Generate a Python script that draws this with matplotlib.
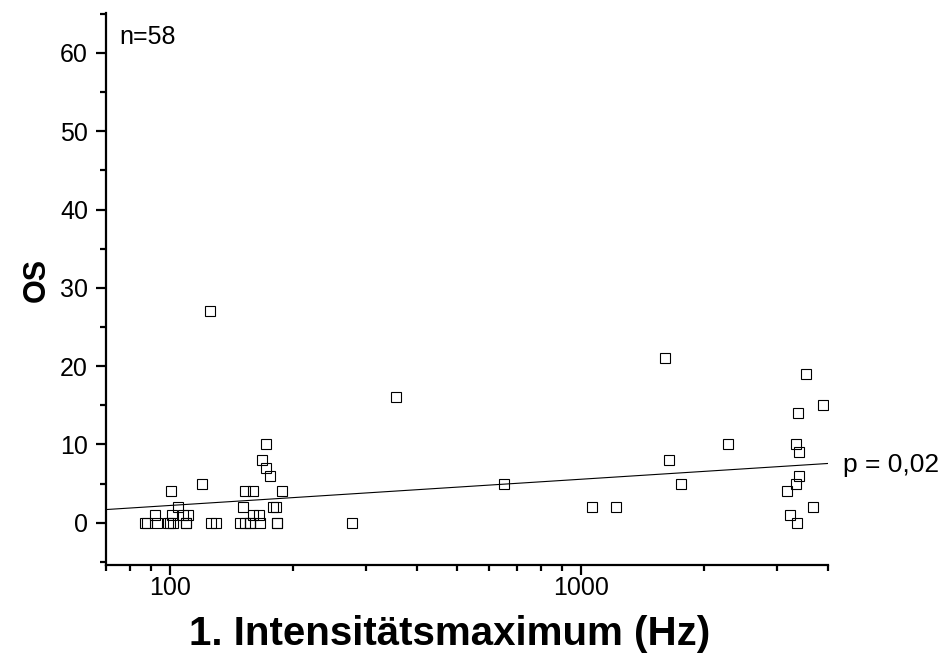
import matplotlib
matplotlib.use("Agg")
import matplotlib.pyplot as plt
import numpy as np
from matplotlib.ticker import FixedLocator, FixedFormatter, NullFormatter, MultipleLocator

plt.rcParams["font.family"] = ["Liberation Sans", "DejaVu Sans"]

# 1. Intensitätsmaximum (Hz) vs. OS (n=58)
freq = [
    86.9, 88, 92, 93.3, 99.1, 100, 101, 101.3, 101.9, 104.8, 107.7, 109.8,
    109.8, 110.8, 120, 125.6, 125.8, 130,
    148.2, 150.9, 152.4, 152.4, 156.6, 156.6, 159.6, 159.6, 165.2, 165.7,
    167.9, 171.3, 171.5, 175.2, 178, 181.3, 182.4, 182.4, 187.9,
    277.8, 355, 650, 1064, 1217, 1603, 1641, 1757, 2278,
    3182, 3225, 3345, 3345, 3357, 3377, 3407, 3407, 3542, 3674, 3886,
]
os_vals = [
    0, 0, 1, 0, 0, 0, 4, 1, 0, 2, 1, 0,
    0, 1, 5, 27, 0, 0,
    0, 2, 4, 0, 0, 0, 4, 1, 1, 0,
    8, 10, 7, 6, 2, 2, 0, 0, 4,
    0, 16, 5, 2, 2, 21, 8, 5, 10,
    4, 1, 10, 5, 0, 14, 9, 6, 19, 2, 15,
]

# regression line OS = a + b*log10(f)
fit_a = -4.5
fit_b = 3.35
fit_range = [70, 4000]

fig = plt.figure(figsize=(9.44, 6.59), dpi=100)
ax = fig.add_axes([106 / 944, 1 - 565 / 659, 722 / 944, 552 / 659])

ax.plot(freq, os_vals, linestyle="none", marker="s", markersize=7.4,
        markerfacecolor="none", markeredgecolor="black", markeredgewidth=0.8)

xf = np.array(fit_range, dtype=float)
ax.plot(xf, fit_a + fit_b * np.log10(xf), color="black", linewidth=0.8)

ax.set_xscale("log")
ax.set_xlim(70, 4000)
ax.set_ylim(-5.4, 65.1)

ax.xaxis.set_major_locator(FixedLocator([100, 1000]))
ax.xaxis.set_major_formatter(FixedFormatter(["100", "1000"]))
ax.xaxis.set_minor_locator(FixedLocator([70, 80, 90, 200, 300, 400, 500, 600,
                                         700, 800, 900, 2000, 3000, 4000]))
ax.xaxis.set_minor_formatter(NullFormatter())
ax.yaxis.set_major_locator(FixedLocator([0, 10, 20, 30, 40, 50, 60]))
ax.yaxis.set_minor_locator(MultipleLocator(5))

for s in ("top", "right"):
    ax.spines[s].set_visible(False)
for s in ("left", "bottom"):
    ax.spines[s].set_linewidth(1.6)

ax.tick_params(which="major", direction="out", length=7, width=1.6,
               labelsize=18)
ax.tick_params(which="minor", direction="out", length=4, width=1.6)
ax.tick_params(axis="y", which="major", pad=6)
ax.tick_params(axis="x", which="major", pad=1)

ax.set_xlabel("1. Intensitätsmaximum (Hz)", fontsize=29, fontweight="bold",
              va="center")
ax.xaxis.set_label_coords(0.476, -0.125)
ax.set_ylabel("OS", fontsize=22, fontweight="bold", va="center")
ax.yaxis.set_label_coords(-0.0956, 0.516)

ax.text(0.018, 0.957, "n=58", transform=ax.transAxes, fontsize=18,
        ha="left", va="center")
fig.text(843 / 944, 1 - 465 / 659, "p = 0,02", fontsize=19,
         ha="left", va="center")

fig.savefig("out.png", dpi=100)
